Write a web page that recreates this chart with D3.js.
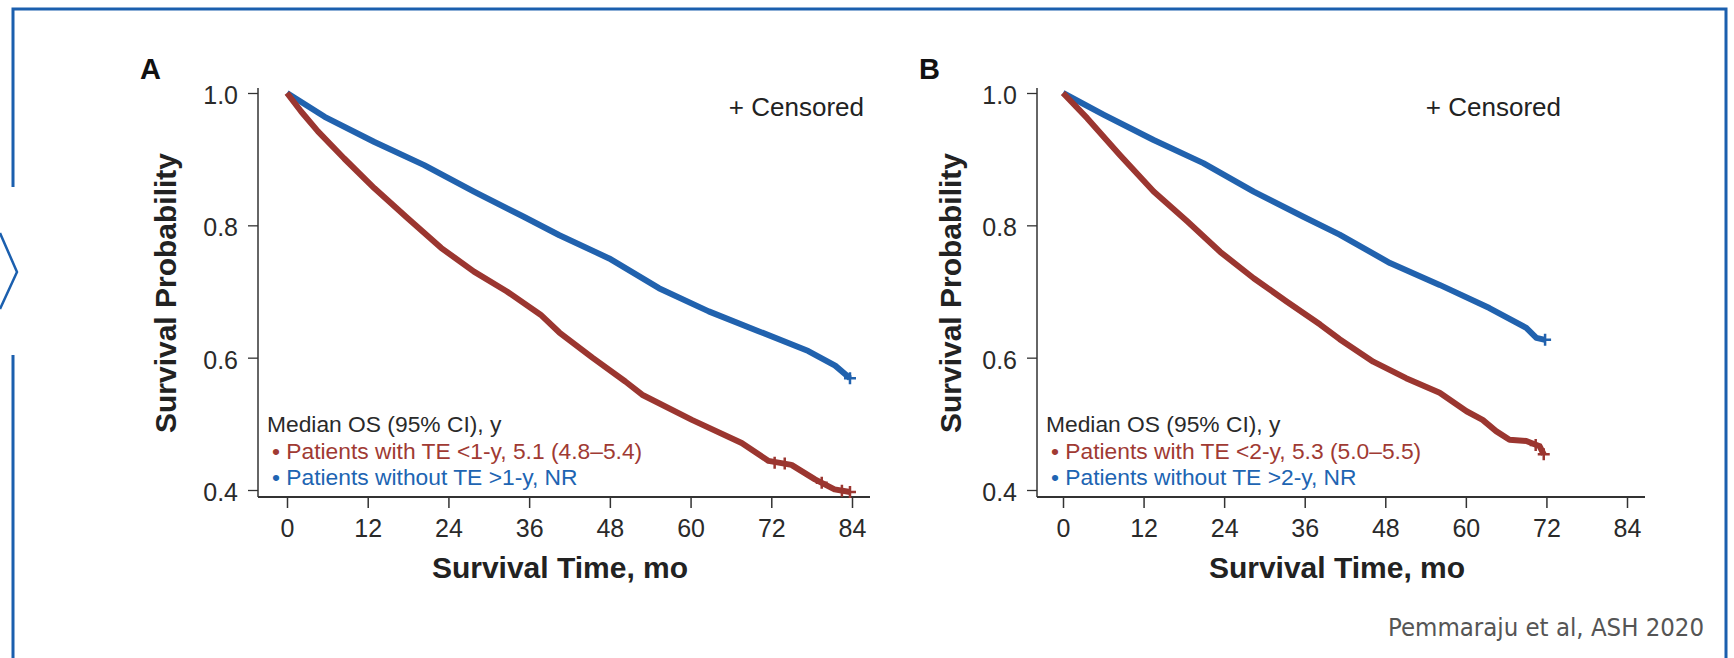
<!DOCTYPE html>
<html>
<head>
<meta charset="utf-8">
<script src="https://cdn.jsdelivr.net/npm/d3@7"></script>
<style>
  body { margin: 0; background: #fff; }
  svg { display: block; font-family: "Liberation Sans", Arial, sans-serif; }
</style>
</head>
<body>
<svg id="chart" width="1734" height="658"></svg>
<script>
// tick values
const monthTicks = [0, 12, 24, 36, 48, 60, 72, 84];
const probTicks = [0.4, 0.6, 0.8, 1.0];

// Panel A: [month, survival probability]
const aWithTE = [[0,1],[2.1,0.972],[4.6,0.942],[8.5,0.901],[13,0.856],[17.9,0.811],[22.9,0.766],
  [27.8,0.73],[32.7,0.70],[37.7,0.665],[40.5,0.638],[45.4,0.60],[50.3,0.564],[52.8,0.544],
  [60.2,0.506],[67.6,0.471],[71.6,0.444],[75,0.438],[78.5,0.416],[81.4,0.401],[83.7,0.397]];
const aWithoutTE = [[0,1],[5.6,0.964],[13,0.926],[20.4,0.891],[27.8,0.851],[35.2,0.813],[40.5,0.785],
  [47.9,0.75],[55.3,0.705],[62.7,0.67],[70.1,0.64],[77.5,0.61],[81.5,0.588],[83.7,0.569]];
const aCensorRed = [[72.5,0.441],[74,0.440],[79.5,0.411],[82.5,0.399],[83.7,0.397]];
const aCensorBlue = [[83.7,0.569]];

// Panel B
const bWithTE = [[0,1],[3.6,0.962],[8.5,0.906],[13.5,0.851],[18.5,0.806],[23.4,0.76],[28.4,0.72],
  [33.3,0.685],[38.3,0.65],[41.2,0.628],[46.2,0.594],[51.1,0.569],[56.1,0.547],[60.1,0.519],
  [62.5,0.506],[64.5,0.489],[66.5,0.476],[69,0.474],[71,0.466],[71.6,0.454]];
const bWithoutTE = [[0,1],[6.1,0.967],[13.5,0.929],[20.9,0.894],[28.4,0.851],[35.8,0.813],[41.2,0.786],
  [48.7,0.743],[56.1,0.71],[63.5,0.675],[69,0.645],[70.5,0.63],[71.8,0.627]];
const bCensorRed = [[70.4,0.468],[71.6,0.454]];
const bCensorBlue = [[71.8,0.627]];

const legendA = ["Median OS (95% CI), y", "• Patients with TE <1-y, 5.1 (4.8–5.4)", "• Patients without TE >1-y, NR"];
const legendB = ["Median OS (95% CI), y", "• Patients with TE <2-y, 5.3 (5.0–5.5)", "• Patients without TE >2-y, NR"];

const red = "#9b3630", blue = "#2162ae", ink = "#2a2a2a";

const svg = d3.select("#chart");

// blue frame with the chevron on the left
svg.append("path")
  .attr("d", "M13,187V9H1726V658M13,355V658")
  .attr("fill", "none").attr("stroke", "#1b5fae").attr("stroke-width", 3);
svg.append("path")
  .attr("d", "M0,233L17,272L0,309")
  .attr("fill", "none").attr("stroke", "#1b5fae").attr("stroke-width", 2.5);

const panels = [
  { label: "A", axisX: 258, x0: 287, x84: 852, xEnd: 870, titleX: 176, cens: 864,
    red: aWithTE, blue: aWithoutTE, cRed: aCensorRed, cBlue: aCensorBlue, legend: legendA },
  { label: "B", axisX: 1037, x0: 1063, x84: 1627, xEnd: 1645, titleX: 961, cens: 1561,
    red: bWithTE, blue: bWithoutTE, cRed: bCensorRed, cBlue: bCensorBlue, legend: legendB }
];

panels.forEach(p => {
  const g = svg.append("g");
  const x = d3.scaleLinear().domain([0, 84]).range([p.x0, p.x84]);
  const y = d3.scaleLinear().domain([0.4, 1]).range([490, 93]);

  // panel letter
  g.append("text").attr("x", p.axisX - 118).attr("y", 79)
    .attr("font-size", 29).attr("font-weight", "bold").attr("fill", "#111")
    .text(p.label);

  // axes
  const xa = g.append("g").attr("transform", "translate(0,497)")
    .call(d3.axisBottom(x).tickValues(monthTicks).tickSize(11).tickSizeOuter(0));
  xa.select(".domain").remove();
  xa.selectAll("text").attr("y", 40).attr("dy", 0).attr("font-size", 25)
    .attr("fill", ink).attr("font-family", null);
  xa.selectAll("line").attr("stroke", "#333").attr("stroke-width", 1.5);

  const ya = g.append("g").attr("transform", `translate(${p.axisX},0)`)
    .call(d3.axisLeft(y).tickValues(probTicks).tickFormat(d3.format(".1f")).tickSize(10).tickSizeOuter(0));
  ya.select(".domain").remove();
  ya.selectAll("text").attr("x", -20).attr("dy", "0.42em").attr("font-size", 25)
    .attr("fill", ink).attr("font-family", null);
  ya.selectAll("line").attr("stroke", "#333").attr("stroke-width", 1.3);

  g.append("line").attr("x1", p.axisX).attr("x2", p.axisX).attr("y1", 88).attr("y2", 497)
    .attr("stroke", "#333").attr("stroke-width", 1.5);
  g.append("line").attr("x1", p.axisX).attr("x2", p.xEnd).attr("y1", 497).attr("y2", 497)
    .attr("stroke", "#333").attr("stroke-width", 2);

  // axis titles
  g.append("text").attr("x", (p.axisX + p.xEnd) / 2 - 4).attr("y", 578)
    .attr("text-anchor", "middle").attr("font-size", 30).attr("font-weight", "bold")
    .attr("fill", "#222").text("Survival Time, mo");
  g.append("text").attr("transform", `translate(${p.titleX},293) rotate(-90)`)
    .attr("text-anchor", "middle").attr("font-size", 30).attr("font-weight", "bold")
    .attr("fill", "#222").text("Survival Probability");

  // curves
  const line = d3.line().x(d => x(d[0])).y(d => y(d[1]));
  [[p.blue, blue], [p.red, red]].forEach(([data, col]) => {
    g.append("path").datum(data).attr("d", line)
      .attr("fill", "none").attr("stroke", col).attr("stroke-width", 6)
      .attr("stroke-linejoin", "round");
  });
  [[p.cBlue, blue], [p.cRed, red]].forEach(([data, col]) => {
    g.selectAll(null).data(data).enter().append("path")
      .attr("transform", d => `translate(${x(d[0])},${y(d[1])})`)
      .attr("d", "M-6,0H6M0,-6V6")
      .attr("stroke", col).attr("stroke-width", 2.5);
  });

  // censored note
  g.append("text").attr("x", p.cens).attr("y", 116).attr("text-anchor", "end")
    .attr("font-size", 26).attr("fill", "#222").text("+ Censored");

  // legend
  g.selectAll(null).data(p.legend).enter().append("text")
    .attr("x", (d, i) => i === 0 ? p.axisX + 9 : p.axisX + 14)
    .attr("y", (d, i) => 432 + i * 26.5)
    .attr("font-size", 22.8)
    .attr("fill", (d, i) => [ink, "#a03a33", "#2064b2"][i])
    .text(d => d);
});

svg.append("text").attr("x", 1388).attr("y", 636)
  .attr("font-family", "'DejaVu Sans Condensed', 'DejaVu Sans', sans-serif")
  .attr("font-stretch", "condensed")
  .attr("font-size", 25.5).attr("fill", "#555")
  .text("Pemmaraju et al, ASH 2020");
</script>
</body>
</html>
